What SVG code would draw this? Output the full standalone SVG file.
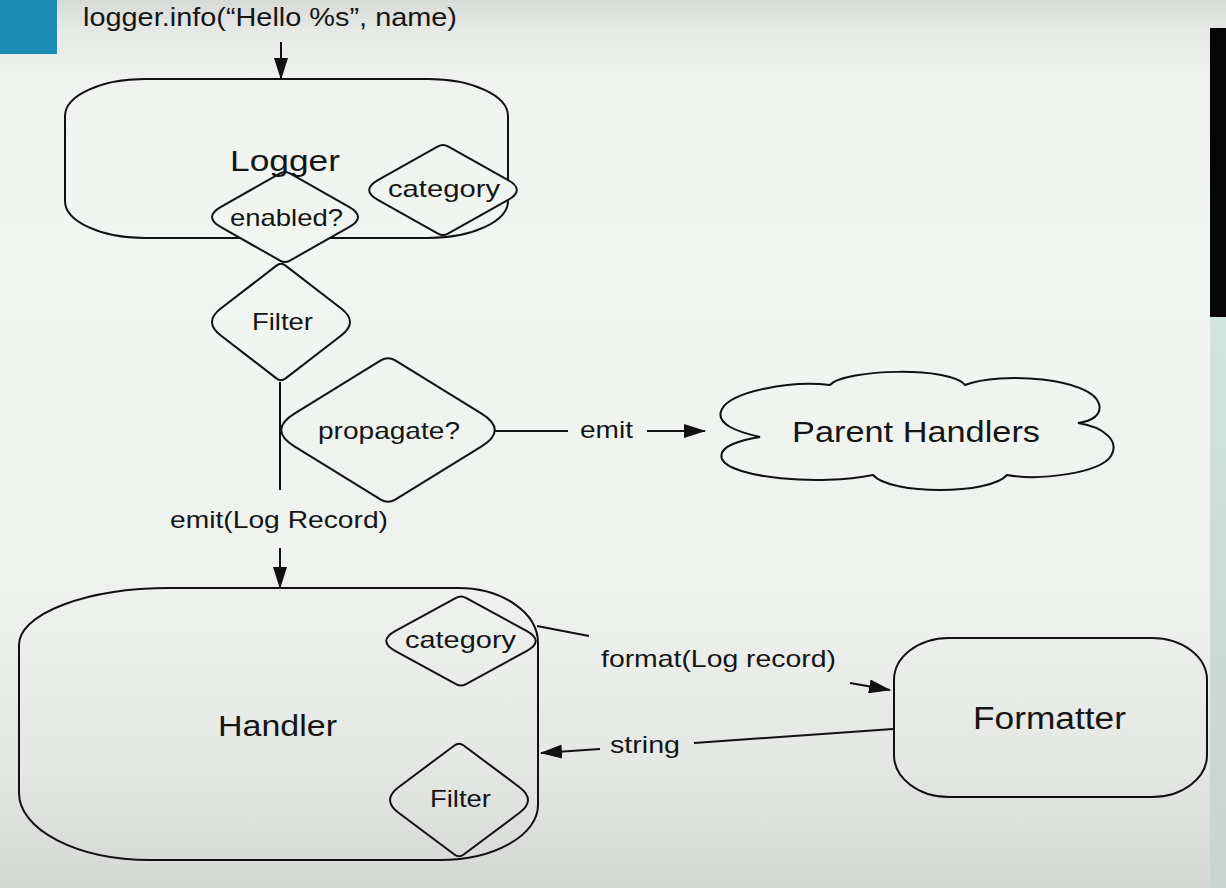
<svg xmlns="http://www.w3.org/2000/svg" width="1226" height="888" viewBox="0 0 1226 888">
<defs>
<linearGradient id="bg" gradientUnits="userSpaceOnUse" x1="0" y1="0" x2="0" y2="888">
<stop offset="0" stop-color="#d8dad8"/>
<stop offset="0.035" stop-color="#e6e9e6"/>
<stop offset="0.09" stop-color="#eff2ef"/>
<stop offset="0.3" stop-color="#f2f6f3"/>
<stop offset="0.66" stop-color="#eef1ee"/>
<stop offset="0.85" stop-color="#e5e8e5"/>
<stop offset="1" stop-color="#d4d7d4"/>
</linearGradient>
<linearGradient id="teal" x1="0" y1="0" x2="0" y2="1">
<stop offset="0" stop-color="#d0e5de"/>
<stop offset="1" stop-color="#c9d3cf"/>
</linearGradient>
<marker id="ah" markerUnits="userSpaceOnUse" markerWidth="22" markerHeight="14" refX="21" refY="7" orient="auto">
<path d="M0,0 L22,7 L0,14 Z" fill="#111"/>
</marker>
</defs>
<style>
.shape{fill:url(#bg);stroke:#111;stroke-width:2}
.dia{fill:url(#bg);stroke:#111;stroke-width:2}
.open{fill:none;stroke:#111;stroke-width:2}
.conn{fill:none;stroke:#111;stroke-width:2}
.arrow{fill:none;stroke:#111;stroke-width:2;marker-end:url(#ah)}
text{font-family:"Liberation Sans",Arial,Helvetica,sans-serif;fill:#151515}
.t24{font-size:24px}
.t30{font-size:30px}
</style>

<rect x="0" y="0" width="1226" height="888" fill="url(#bg)"/>
<rect x="0" y="0" width="57" height="54" fill="#1d8cb5"/>
<rect x="1210" y="28" width="16" height="289" fill="#060606"/>
<rect x="1210" y="317" width="16" height="571" fill="url(#teal)"/>

<g id="call">
<text x="83" y="26" style="font-size:26px" textLength="374" lengthAdjust="spacingAndGlyphs">logger.info(“Hello %s”, name)</text>
</g>

<g id="logger">
<rect class="open" x="65" y="79" width="443" height="159" rx="80" ry="37"/>
</g>

<g id="logger-enabled">
<path class="dia" d="M280.1,173.4 Q285,170.6 289.9,173.4 L349,206.8 Q367,217 349,227.2 L289.9,260.6 Q285,263.4 280.1,260.6 L221,227.2 Q203,217 221,206.8 Z"/>
<text class="t24" x="230" y="226" textLength="113" lengthAdjust="spacingAndGlyphs">enabled?</text>
</g>

<g id="logger-label">
<text class="t30" x="230" y="171" textLength="110" lengthAdjust="spacingAndGlyphs">Logger</text>
</g>

<g id="logger-category">
<path class="dia" d="M438,146.4 Q443,143.6 448,146.4 L507.7,179.8 Q526,190 507.7,200.2 L448,233.6 Q443,236.4 438,233.6 L378.3,200.2 Q360,190 378.3,179.8 Z"/>
<text class="t24" x="388" y="197" textLength="112" lengthAdjust="spacingAndGlyphs">category</text>
</g>

<g id="filter">
<path class="dia" d="M276.4,265.6 Q281,262 285.6,265.6 L341.5,308.8 Q358.5,322 341.5,335.2 L285.6,378.4 Q281,382 276.4,378.4 L220.5,335.2 Q203.5,322 220.5,308.8 Z"/>
<text class="t24" x="252" y="330" textLength="61" lengthAdjust="spacingAndGlyphs">Filter</text>
</g>

<g id="propagate">
<path class="dia" d="M380.8,360.4 Q388,356 395.2,360.4 L481.6,413.7 Q508,430 481.6,446.3 L395.2,499.6 Q388,504 380.8,499.6 L294.4,446.3 Q268,430 294.4,413.7 Z"/>
<text class="t24" x="318" y="439" textLength="142" lengthAdjust="spacingAndGlyphs">propagate?</text>
</g>

<g id="parent-handlers">
<path class="shape" d="M760,437 C738,432 714,424 722,409 C731,392 790,380 830,385 C845,369 950,366 965,385 C1000,371 1092,378 1099,404 C1102,415 1092,421 1078,423 C1104,427 1120,441 1111,456 C1100,473 1040,481 1007,475 C990,495 890,495 873,475 C820,486 730,478 722,459 C717,446 742,440 760,437 Z"/>
<text class="t30" x="792" y="442" textLength="248" lengthAdjust="spacingAndGlyphs">Parent Handlers</text>
</g>

<g id="handler">
<path class="open" d="M170,588 L458,588 A80,55 0 0 1 538,643 L538,805 A98,55 0 0 1 440,860 L150,860 A131,67 0 0 1 19,793 L19,645 A151,57 0 0 1 170,588 Z"/>
<text class="t30" x="218" y="736" textLength="119" lengthAdjust="spacingAndGlyphs">Handler</text>
</g>

<g id="handler-category">
<path class="dia" d="M456,597.8 Q461,595 466,597.8 L526.5,630.9 Q545,641 526.5,651.1 L466,684.2 Q461,687 456,684.2 L395.5,651.1 Q377,641 395.5,630.9 Z"/>
<text class="t24" x="405" y="648" textLength="111" lengthAdjust="spacingAndGlyphs">category</text>
</g>

<g id="handler-filter">
<path class="dia" d="M454.4,745.5 Q459,742 463.7,745.5 L519.5,787.2 Q536.5,800 519.5,812.8 L463.7,854.5 Q459,858 454.4,854.5 L398.5,812.8 Q381.5,800 398.5,787.2 Z"/>
<text class="t24" x="430" y="807" textLength="61" lengthAdjust="spacingAndGlyphs">Filter</text>
</g>

<g id="formatter">
<rect class="shape" x="894" y="638" width="313" height="159" rx="55" ry="42"/>
<text x="973" y="729" style="font-size:31px" textLength="153" lengthAdjust="spacingAndGlyphs">Formatter</text>
</g>

<g id="connectors">
<line class="arrow" x1="281" y1="42" x2="281" y2="79"/>
<line class="conn" x1="280" y1="382" x2="280" y2="490"/>
<text class="t24" x="170" y="528" textLength="218" lengthAdjust="spacingAndGlyphs">emit(Log Record)</text>
<line class="arrow" x1="280" y1="548" x2="280" y2="588"/>
<line class="conn" x1="495" y1="431" x2="568" y2="431"/>
<text class="t24" x="580" y="438" textLength="53" lengthAdjust="spacingAndGlyphs">emit</text>
<line class="arrow" x1="647" y1="431" x2="705" y2="431"/>
<line class="conn" x1="537" y1="626" x2="589" y2="636"/>
<text class="t24" x="601" y="667" textLength="235" lengthAdjust="spacingAndGlyphs">format(Log record)</text>
<line class="arrow" x1="850" y1="683" x2="890" y2="690"/>
<line class="conn" x1="893" y1="729" x2="694" y2="743"/>
<text class="t24" x="610" y="753" textLength="70" lengthAdjust="spacingAndGlyphs">string</text>
<line class="arrow" x1="600" y1="749" x2="541" y2="753"/>
</g>
</svg>
